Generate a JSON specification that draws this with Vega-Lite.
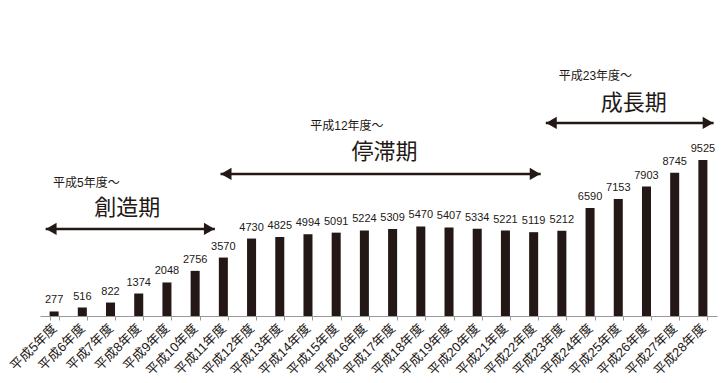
{
  "$schema": "https://vega.github.io/schema/vega-lite/v6.json",
  "width": 677,
  "height": 316,
  "autosize": {"type": "none"},
  "padding": {"left": 40, "top": 0, "right": 9, "bottom": 67},
  "background": "white",
  "config": {"view": {"stroke": null}, "font": "Liberation Sans, Noto Sans CJK JP"},
  "datasets": {
    "bars": [
      {"year": "平成5年度", "v": 277}, {"year": "平成6年度", "v": 516}, {"year": "平成7年度", "v": 822},
      {"year": "平成8年度", "v": 1374}, {"year": "平成9年度", "v": 2048}, {"year": "平成10年度", "v": 2756},
      {"year": "平成11年度", "v": 3570}, {"year": "平成12年度", "v": 4730}, {"year": "平成13年度", "v": 4825},
      {"year": "平成14年度", "v": 4994}, {"year": "平成15年度", "v": 5091}, {"year": "平成16年度", "v": 5224},
      {"year": "平成17年度", "v": 5309}, {"year": "平成18年度", "v": 5470}, {"year": "平成19年度", "v": 5407},
      {"year": "平成20年度", "v": 5334}, {"year": "平成21年度", "v": 5221}, {"year": "平成22年度", "v": 5119},
      {"year": "平成23年度", "v": 5212}, {"year": "平成24年度", "v": 6590}, {"year": "平成25年度", "v": 7153},
      {"year": "平成26年度", "v": 7903}, {"year": "平成27年度", "v": 8745}, {"year": "平成28年度", "v": 9525}
    ],
    "arrows": [
      {"name": "創造期", "a": 0.2, "b": 6.2, "y": 5314},
      {"name": "停滞期", "a": 6.4, "b": 17.75, "y": 8673},
      {"name": "成長期", "a": 17.93, "b": 23.88, "y": 11788}
    ],
    "heads": [
      {"x": 0.4, "y": 5314, "dir": "left"}, {"x": 6.0, "y": 5314, "dir": "right"},
      {"x": 6.6, "y": 8673, "dir": "left"}, {"x": 17.55, "y": 8673, "dir": "right"},
      {"x": 18.13, "y": 11788, "dir": "left"}, {"x": 23.68, "y": 11788, "dir": "right"}
    ],
    "small": [
      {"t": "平成5年度～", "x": 0.46, "y": 8120},
      {"t": "平成12年度～", "x": 9.58, "y": 11600},
      {"t": "平成23年度～", "x": 18.39, "y": 14652}
    ],
    "big": [
      {"t": "創造期", "x": 3.09, "y": 6593},
      {"t": "停滞期", "x": 12.21, "y": 10012},
      {"t": "成長期", "x": 21.05, "y": 13004}
    ]
  },
  "layer": [
    {
      "data": {"name": "bars"},
      "encoding": {
        "x": {
          "field": "year", "type": "nominal", "sort": null,
          "scale": {"paddingInner": 0.68, "paddingOuter": 0.34},
          "axis": {
            "title": null, "labelAngle": -45, "labelAlign": "right", "labelBaseline": "middle",
            "labelFontSize": 13, "labelColor": "#231815", "labelPadding": 6,
            "tickBand": "extent", "tickSize": 4, "tickColor": "#999999", "domainColor": "#999999",
            "labelFont": "Liberation Sans, Noto Sans CJK JP"
          }
        },
        "y": {"field": "v", "type": "quantitative", "scale": {"domain": [0, 19300], "nice": false}, "axis": null}
      },
      "layer": [
        {"mark": {"type": "bar", "color": "#231815"}},
        {
          "mark": {"type": "text", "baseline": "bottom", "dy": -6, "fontSize": 11, "color": "#231815"},
          "encoding": {"text": {"field": "v", "type": "quantitative", "format": "d"}}
        }
      ]
    },
    {
      "layer": [
        {
          "data": {"name": "arrows"},
          "mark": {"type": "rule", "strokeWidth": 2.5, "color": "#231815"},
          "encoding": {
            "x": {"field": "a", "type": "quantitative", "scale": {"domain": [0, 24], "nice": false, "zero": false}, "axis": null},
            "x2": {"field": "b"},
            "y": {"field": "y", "type": "quantitative"}
          }
        },
        {
          "data": {"name": "heads"},
          "mark": {"type": "point", "filled": true, "opacity": 1, "color": "#231815", "size": 150},
          "encoding": {
            "x": {"field": "x", "type": "quantitative"},
            "y": {"field": "y", "type": "quantitative"},
            "shape": {"field": "dir", "type": "nominal", "scale": {"domain": ["left", "right"], "range": ["triangle-left", "triangle-right"]}, "legend": null}
          }
        },
        {
          "data": {"name": "small"},
          "mark": {"type": "text", "align": "left", "baseline": "middle", "fontSize": 12, "color": "#231815"},
          "encoding": {
            "x": {"field": "x", "type": "quantitative"},
            "y": {"field": "y", "type": "quantitative"},
            "text": {"field": "t"}
          }
        },
        {
          "data": {"name": "big"},
          "mark": {"type": "text", "align": "center", "baseline": "middle", "fontSize": 22, "color": "#231815", "font": "Noto Sans CJK JP"},
          "encoding": {
            "x": {"field": "x", "type": "quantitative"},
            "y": {"field": "y", "type": "quantitative"},
            "text": {"field": "t"}
          }
        }
      ]
    }
  ],
  "resolve": {"scale": {"x": "independent"}}
}
